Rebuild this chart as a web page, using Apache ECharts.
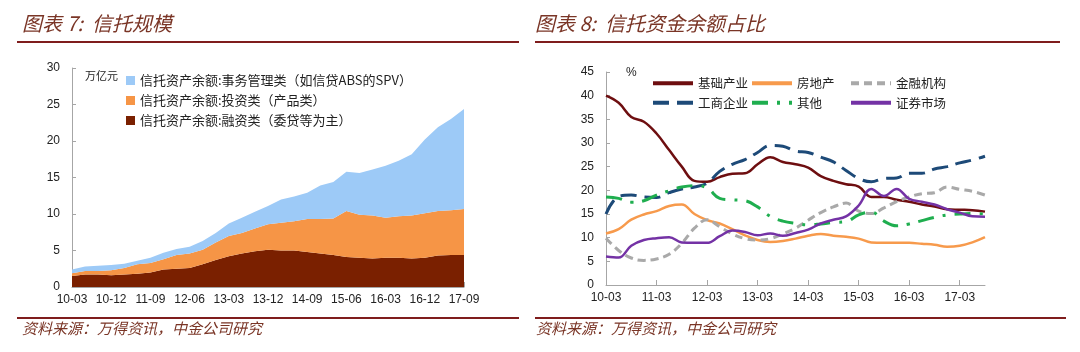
<!DOCTYPE html>
<html>
<head>
<meta charset="utf-8">
<script src="https://cdn.jsdelivr.net/npm/echarts@6/dist/echarts.min.js"></script>
<style>
  html, body { margin: 0; padding: 0; background: #fff; }
  #chart { width: 1080px; height: 352px; }
</style>
</head>
<body>
<div id="chart"></div>
<script>
// 季度类目（两张图共用）
const quarters = ['10-03','10-06','10-09','10-12','11-03','11-06','11-09','11-12','12-03','12-06','12-09','12-12',
  '13-03','13-06','13-09','13-12','14-03','14-06','14-09','14-12','15-03','15-06','15-09','15-12',
  '16-03','16-06','16-09','16-12','17-03','17-06','17-09']

// 图表7：信托规模（万亿元），堆叠面积
const financing = [1.5,1.7,1.7,1.6,1.7,1.8,2.0,2.4,2.5,2.6,3.1,3.7,4.2,4.6,4.9,5.1,5.0,5.0,4.8,4.6,4.4,4.1,4.0,3.9,4.0,4.0,3.9,4.0,4.3,4.4,4.4]
const investing = [0.4,0.5,0.5,0.7,0.9,1.3,1.3,1.4,1.9,2.0,2.0,2.4,2.8,2.8,3.1,3.5,3.8,4.0,4.5,4.7,5.0,6.3,5.9,5.9,5.5,5.7,5.9,6.1,6.1,6.1,6.3]
const affairs = [0.5,0.6,0.7,0.7,0.6,0.5,0.7,0.9,0.8,0.9,1.2,1.3,1.7,2.1,2.3,2.5,3.2,3.4,3.6,4.6,5.0,5.4,5.7,6.3,7.1,7.6,8.4,10.1,11.5,12.5,13.7]

// 图表8：信托资金余额占比（%）
const infra = [40.0,38.5,35.5,34.5,32.0,28.5,25.0,22.0,21.8,22.8,23.5,23.6,25.5,27.0,26.0,25.5,24.8,23.0,22.0,21.3,20.8,18.6,18.6,18.0,17.6,17.0,16.6,16.0,15.9,15.8,15.5]
const realEstate = [10.9,11.8,13.8,14.9,15.6,16.7,17.0,15.0,13.7,13.0,11.8,10.5,9.5,9.1,9.3,9.8,10.4,10.8,10.4,10.2,9.8,9.0,8.9,8.9,8.9,8.7,8.5,8.1,8.3,9.0,10.1]
const finInst = [9.9,7.3,5.7,5.2,5.5,6.5,8.8,12.0,13.8,12.3,10.8,9.8,9.5,9.8,10.8,12.0,13.7,15.3,16.5,17.3,15.6,15.1,16.3,17.6,18.6,19.3,19.5,20.7,20.2,19.8,19.0]
const business = [15.0,18.7,19.0,18.6,18.5,19.5,20.3,20.7,21.5,24.0,25.5,26.5,28.0,29.5,29.3,28.3,28.0,27.0,26.0,24.2,22.5,21.8,22.5,22.6,23.6,23.6,24.5,25.0,25.8,26.4,27.2]
const others = [18.6,18.3,17.5,17.8,19.0,19.9,20.7,21.0,20.5,18.3,18.0,17.8,16.5,14.5,13.5,13.0,12.7,12.9,13.2,13.4,14.8,15.4,13.5,12.5,12.9,13.6,14.3,14.8,15.0,15.1,15.0]
const securities = [6.0,5.8,8.3,9.5,9.9,10.1,9.0,8.9,8.9,10.3,11.5,11.2,10.5,10.9,10.4,11.0,11.7,13.0,13.8,14.5,16.8,20.3,18.8,20.3,18.2,17.6,17.0,16.0,15.3,14.5,14.4]

const leftTicks = [0, 30, 5]
const rightTicks = [0, 45, 5]

const cjk = '"Noto Sans CJK SC", sans-serif'
const titleColor = '#7a3526'
const ruleColor = '#7f1d1d'
const axisColor = '#a6a6a6'

function valueAxis (gridIndex, t) {
  return {
    type: 'value', gridIndex: gridIndex, min: t[0], max: t[1], interval: t[2],
    axisLine: { show: true, lineStyle: { color: axisColor } },
    axisTick: { show: true, inside: true, length: 4, lineStyle: { color: axisColor } },
    splitLine: { show: false },
    axisLabel: { color: '#222', fontSize: 12, fontFamily: 'Liberation Sans', margin: 12 }
  }
}

function catAxis (gridIndex, every) {
  return {
    type: 'category', gridIndex: gridIndex, data: quarters, boundaryGap: false,
    axisLine: { lineStyle: { color: axisColor } },
    axisTick: { inside: true, length: 5, interval: every, lineStyle: { color: axisColor } },
    axisLabel: { interval: every, color: '#222', fontSize: 12, fontFamily: 'Liberation Sans', margin: 7 }
  }
}

function area (name, data, color) {
  return {
    name: name, type: 'line', xAxisIndex: 0, yAxisIndex: 0, stack: 'scale', data: data,
    symbol: 'none', lineStyle: { width: 0 }, areaStyle: { color: color, opacity: 1 },
    itemStyle: { color: color }
  }
}

function trend (name, data, color, dash, width) {
  return {
    name: name, type: 'line', xAxisIndex: 1, yAxisIndex: 1, data: data,
    symbol: 'none', smooth: 0.4,
    lineStyle: { color: color, width: width, type: dash, cap: 'butt' },
    itemStyle: { color: color }
  }
}

// 右图图例按列排，保证三列对齐
function colLegend (left, names) {
  return {
    orient: 'vertical', left: left, top: 72, itemGap: 7, itemWidth: 40, itemHeight: 8,
    data: names, selectedMode: false,
    itemStyle: { opacity: 0 },
    lineStyle: { width: 4 },
    textStyle: { fontSize: 12.5, color: '#222', fontFamily: cjk }
  }
}

const option = {
  animation: false,
  grid: [
    { left: 72, top: 68, width: 392, height: 219 },
    { left: 606, top: 72, width: 379, height: 213 }
  ],
  xAxis: [catAxis(0, 2), catAxis(1, 3)],
  yAxis: [valueAxis(0, leftTicks), valueAxis(1, rightTicks)],
  legend: [
    {
      orient: 'vertical', left: 121, top: 69, itemGap: 7, itemWidth: 9, itemHeight: 9, icon: 'rect',
      selectedMode: false,
      data: ['信托资产余额:事务管理类（如信贷ABS的SPV）', '信托资产余额:投资类（产品类）', '信托资产余额:融资类（委贷等为主）'],
      textStyle: { fontSize: 13, color: '#222', fontFamily: cjk }
    },
    colLegend(646, ['基础产业', '工商企业']),
    colLegend(745, ['房地产', '其他']),
    colLegend(844, ['金融机构', '证券市场'])
  ],
  series: [
    area('信托资产余额:融资类（委贷等为主）', financing, '#7a2000'),
    area('信托资产余额:投资类（产品类）', investing, '#f69546'),
    area('信托资产余额:事务管理类（如信贷ABS的SPV）', affairs, '#9dcaf7'),
    trend('基础产业', infra, '#6e0e10', 'solid', 2.5),
    trend('房地产', realEstate, '#f79a4c', 'solid', 2.5),
    trend('金融机构', finInst, '#a9a9a9', [8, 5], 3),
    trend('工商企业', business, '#1d4a78', [16, 8], 3),
    trend('其他', others, '#1fae4f', [16, 9, 3, 9], 3),
    trend('证券市场', securities, '#7432a5', 'solid', 2.5)
  ],
  graphic: [
    { type: 'text', left: 22, top: 13, style: { text: '图表 7:  信托规模', font: 'italic 20px ' + cjk, fill: titleColor } },
    { type: 'text', left: 535, top: 13, style: { text: '图表 8:  信托资金余额占比', font: 'italic 20px ' + cjk, fill: titleColor } },
    { type: 'line', shape: { x1: 17, y1: 42, x2: 519, y2: 42 }, style: { stroke: ruleColor, lineWidth: 2 } },
    { type: 'line', shape: { x1: 535, y1: 42, x2: 1060, y2: 42 }, style: { stroke: ruleColor, lineWidth: 2 } },
    { type: 'line', shape: { x1: 17, y1: 318, x2: 519, y2: 318 }, style: { stroke: ruleColor, lineWidth: 2 } },
    { type: 'line', shape: { x1: 535, y1: 318, x2: 1066, y2: 318 }, style: { stroke: ruleColor, lineWidth: 2 } },
    { type: 'text', left: 22, top: 321, style: { text: '资料来源：万得资讯，中金公司研究', font: 'italic 15px ' + cjk, fill: titleColor } },
    { type: 'text', left: 536, top: 321, style: { text: '资料来源：万得资讯，中金公司研究', font: 'italic 15px ' + cjk, fill: titleColor } },
    { type: 'text', left: 85, top: 70, style: { text: '万亿元', font: '11px ' + cjk, fill: '#222' } },
    { type: 'text', left: 626, top: 67, style: { text: '%', font: '12px Liberation Sans', fill: '#222' } }
  ]
}

const myChart = echarts.init(document.getElementById('chart'))
myChart.setOption(option)
</script>
</body>
</html>
